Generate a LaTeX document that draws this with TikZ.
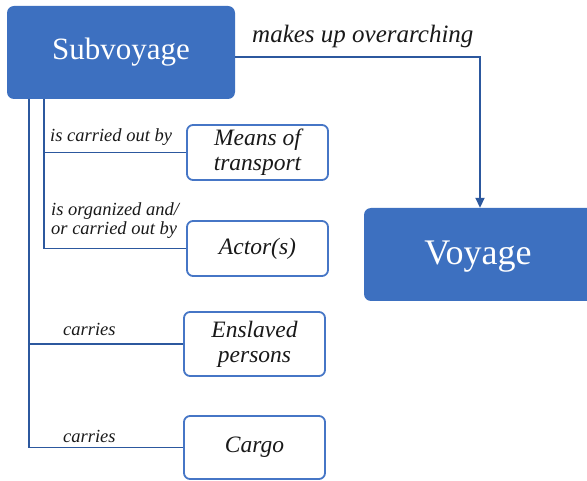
\documentclass[tikz,border=0pt]{standalone}
\usepackage{fontspec}
\setmainfont{Liberation Serif}
\usetikzlibrary{arrows.meta}
\definecolor{boxblue}{RGB}{61,112,192}
\definecolor{edgeblue}{RGB}{70,118,198}
\definecolor{linblue}{RGB}{44,88,158}
\definecolor{txt}{RGB}{25,25,25}
\begin{document}
\begin{tikzpicture}[x=1pt,y=-1pt,
  mainbox/.style={fill=boxblue, draw=none, rounded corners=7pt, text=white,
    font=\fontsize{31}{36}\selectfont, inner sep=0pt},
  leafbox/.style={draw=edgeblue, fill=white, line width=1.8pt, rounded corners=6pt,
    minimum width=140pt, text=txt, align=center, inner sep=0pt,
    font=\itshape\fontsize{23.5}{25}\selectfont},
  rel/.style={font=\itshape\fontsize{18.5}{20}\selectfont, text=txt, inner sep=0pt, anchor=base west, align=left},
  conn/.style={draw=linblue, line width=1.9pt}]
\useasboundingbox (0,0) rectangle (587,481);
\clip (0,0) rectangle (587,481);

\node[mainbox, minimum width=228pt, minimum height=93pt] (sub) at (121,52.5) {\raisebox{-2.5pt}{Subvoyage}};
\node[mainbox, minimum width=240pt, minimum height=93pt] (voy) at (484,254.5) {};
\node[font=\fontsize{36}{40}\selectfont, text=white, inner sep=0pt] (voyt) at (478,257) {Voyage};

\node[leafbox, minimum width=141pt, minimum height=55pt] (mean) at (257.5,152.5) {Means of\\transport};
\node[leafbox, minimum width=141pt, minimum height=55pt] (act) at (257.5,248.5) {Actor(s)};
\node[leafbox, minimum width=141pt, minimum height=64pt] (ensl) at (254.5,344) {Enslaved\\persons};
\node[leafbox, minimum width=141pt, minimum height=63pt] (cargo) at (254.5,447.5) {Cargo};

\coordinate (turn) at (480,57);
\coordinate (oX) at (29,0);
\coordinate (iX) at (44,0);

\draw[conn, -{Triangle[width=9pt,length=10pt]}] (sub.east |- turn) -- (turn) -- (voy.north -| turn);
\draw[conn] (sub.south -| oX) -- (oX |- cargo.west) -- (cargo.west);
\draw[conn] (oX |- ensl.west) -- (ensl.west);
\draw[conn] (sub.south -| iX) -- (iX |- act.west) -- (act.west);
\draw[conn] (iX |- mean.west) -- (mean.west);

\node[rel, font=\itshape\fontsize{25}{26}\selectfont] (lmk) at (252,43) {makes up overarching};
\node[rel] (l1) at (50,142) {is carried out by};
\node[rel] (l2a) at (51,216) {is organized and/};
\node[rel] (l2b) at (51,235) {or carried out by};
\node[rel] (l3) at (63,336) {carries};
\node[rel] (l4) at (63,442) {carries};
\end{tikzpicture}
\end{document}
